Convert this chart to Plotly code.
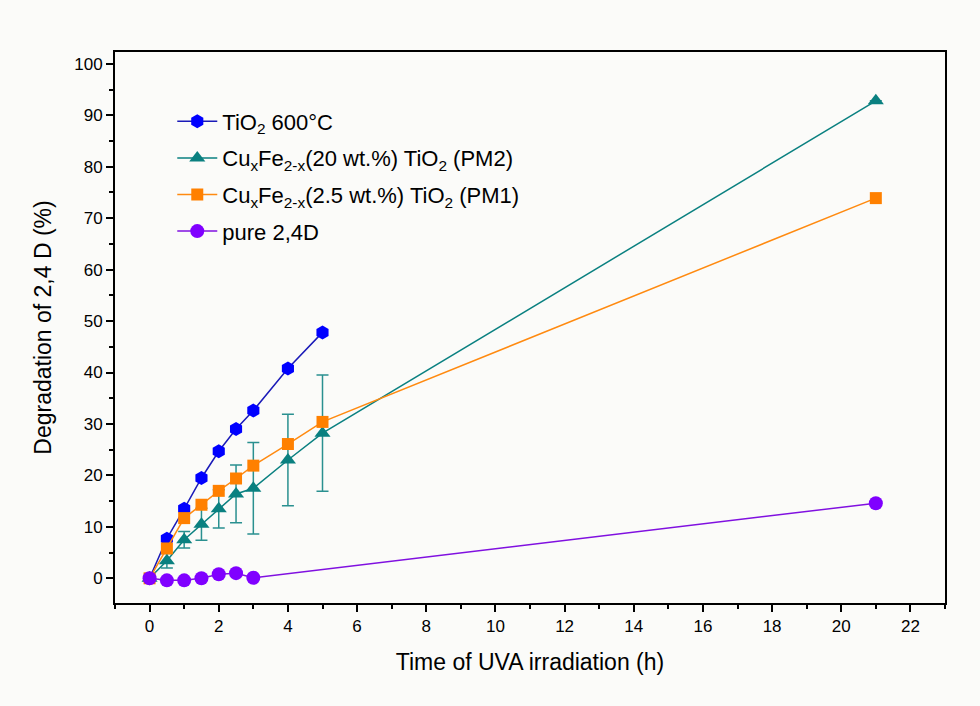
import plotly.graph_objects as go

time_short = [0, 0.5, 1, 1.5, 2, 2.5, 3, 4, 5]
time_long = [0, 0.5, 1, 1.5, 2, 2.5, 3, 4, 5, 21]
time_pure = [0, 0.5, 1, 1.5, 2, 2.5, 3, 21]

tio2_600 = [0, 7.7, 13.5, 19.5, 24.7, 29.0, 32.6, 40.8, 47.8]
pm2 = [0, 3.4, 7.5, 10.5, 13.5, 16.4, 17.5, 23.0, 28.2, 92.8]
pm2_err = [0, 1.4, 1.6, 3.1, 3.7, 5.6, 8.9, 8.9, 11.3, 0]
pm1 = [0, 5.8, 11.7, 14.3, 17.0, 19.4, 21.9, 26.1, 30.4, 73.9]
pure = [0, -0.4, -0.4, 0, 0.8, 1.0, 0.1, 14.6]

names = [
    "TiO<sub>2</sub> 600°C",
    "Cu<sub>x</sub>Fe<sub>2-x</sub>(20 wt.%) TiO<sub>2</sub> (PM2)",
    "Cu<sub>x</sub>Fe<sub>2-x</sub>(2.5 wt.%) TiO<sub>2</sub> (PM1)",
    "pure 2,4D",
]

fig = go.Figure()
fig.add_trace(go.Scatter(
    x=time_short, y=tio2_600, name=names[0], mode="lines+markers", legendgroup="a",
    line=dict(color="#1a1ab8", width=1.5),
    marker=dict(symbol="hexagon", size=14, color="#0000ff", line=dict(width=0)),
))
fig.add_trace(go.Scatter(
    x=time_long, y=pm2, name=names[1], mode="lines+markers", legendgroup="b",
    line=dict(color="#0a8080", width=1.5),
    marker=dict(symbol="triangle-up", size=14, color="#0a8080", line=dict(width=0)),
    error_y=dict(type="data", array=pm2_err, color="#2a9090", thickness=1.5, width=6),
))
fig.add_trace(go.Scatter(
    x=time_long, y=pm1, name=names[2], mode="lines+markers", legendgroup="c",
    line=dict(color="#ff8a10", width=1.5),
    marker=dict(symbol="square", size=12, color="#ff8000", line=dict(width=0)),
))
fig.add_trace(go.Scatter(
    x=time_pure, y=pure, name=names[3], mode="lines+markers", legendgroup="d",
    line=dict(color="#8010e0", width=1.5),
    marker=dict(symbol="circle", size=14, color="#8000ff", line=dict(width=0)),
))

axis_common = dict(
    showline=True, linecolor="black", linewidth=2, mirror=True,
    showgrid=False, zeroline=False, ticks="outside", ticklen=7, tickwidth=1.5,
    tickcolor="black", tickfont=dict(size=17, color="black"),
)
fig.update_xaxes(
    range=[-1, 23], dtick=2, tick0=0,
    minor=dict(dtick=1, tick0=1, ticks="outside", ticklen=4, tickcolor="black", tickwidth=1.5),
    title=dict(text="Time of UVA irradiation (h)", font=dict(size=23, color="black"), standoff=18),
    **axis_common,
)
fig.update_yaxes(
    range=[-4.8, 102.3], dtick=10, tick0=0,
    minor=dict(dtick=5, tick0=5, ticks="outside", ticklen=4, tickcolor="black", tickwidth=1.5),
    title=dict(text="Degradation of 2,4 D (%)", font=dict(size=23, color="black"), standoff=16),
    **axis_common,
)
fig.update_layout(
    width=980, height=706,
    margin=dict(l=115, r=35, t=52, b=103),
    paper_bgcolor="#fbfbf9", plot_bgcolor="#fbfbf9",
    font=dict(family="Liberation Sans, Arial, sans-serif", color="black"),
    showlegend=True,
    legend=dict(x=0.069, y=0.912, xanchor="left", yanchor="top",
                bgcolor="rgba(0,0,0,0)", font=dict(size=22, color="black"),
                tracegroupgap=5, itemwidth=40),
)
fig.write_html("out.html", config={"displayModeBar": False},
               post_script="document.body.style.margin='0px';document.body.style.overflow='hidden';")
